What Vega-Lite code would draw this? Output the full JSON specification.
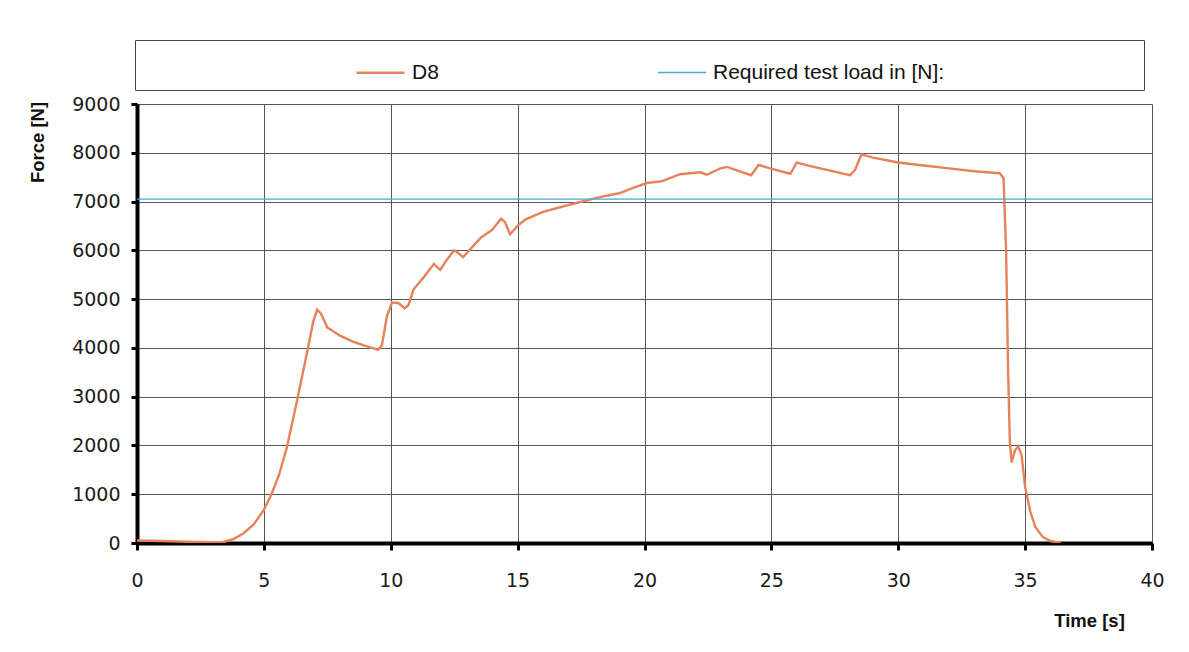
{
  "$schema": "https://vega.github.io/schema/vega-lite/v6.json",
  "width": 1015,
  "height": 439,
  "autosize": {"type": "none"},
  "padding": {"left": 137, "top": 104, "right": 37, "bottom": 109},
  "background": "#ffffff",
  "config": {
    "view": {"stroke": null},
    "axis": {
      "labelFont": "DejaVu Sans",
      "labelFontSize": 19,
      "labelColor": "#1a1a1a",
      "titleFont": "Liberation Sans",
      "titleFontSize": 18.5,
      "titleFontWeight": "bold",
      "titleColor": "#111111",
      "gridColor": "#555555",
      "gridWidth": 1,
      "gridOpacity": 1,
      "domainColor": "#000000",
      "domainWidth": 4,
      "tickColor": "#000000",
      "tickWidth": 3
    },
    "legend": {
      "labelFont": "Liberation Sans",
      "labelFontSize": 21,
      "labelColor": "#111111"
    }
  },
  "data": {
    "values": [
      {"t": 0, "force": 50, "series": "D8"},
      {"t": 1, "force": 40, "series": "D8"},
      {"t": 2, "force": 25, "series": "D8"},
      {"t": 3, "force": 15, "series": "D8"},
      {"t": 3.4, "force": 20, "series": "D8"},
      {"t": 3.8, "force": 80, "series": "D8"},
      {"t": 4.2, "force": 200, "series": "D8"},
      {"t": 4.6, "force": 380, "series": "D8"},
      {"t": 5.0, "force": 680, "series": "D8"},
      {"t": 5.3, "force": 1000, "series": "D8"},
      {"t": 5.6, "force": 1400, "series": "D8"},
      {"t": 5.9, "force": 1950, "series": "D8"},
      {"t": 6.3, "force": 2900, "series": "D8"},
      {"t": 6.7, "force": 3900, "series": "D8"},
      {"t": 6.95, "force": 4550, "series": "D8"},
      {"t": 7.1, "force": 4780, "series": "D8"},
      {"t": 7.25, "force": 4700, "series": "D8"},
      {"t": 7.5, "force": 4420, "series": "D8"},
      {"t": 8.0, "force": 4250, "series": "D8"},
      {"t": 8.5, "force": 4130, "series": "D8"},
      {"t": 9.0, "force": 4040, "series": "D8"},
      {"t": 9.5, "force": 3960, "series": "D8"},
      {"t": 9.65, "force": 4050, "series": "D8"},
      {"t": 9.85, "force": 4650, "series": "D8"},
      {"t": 10.05, "force": 4930, "series": "D8"},
      {"t": 10.3, "force": 4920, "series": "D8"},
      {"t": 10.55, "force": 4810, "series": "D8"},
      {"t": 10.7, "force": 4880, "series": "D8"},
      {"t": 10.9, "force": 5200, "series": "D8"},
      {"t": 11.3, "force": 5450, "series": "D8"},
      {"t": 11.7, "force": 5720, "series": "D8"},
      {"t": 11.95, "force": 5600, "series": "D8"},
      {"t": 12.2, "force": 5800, "series": "D8"},
      {"t": 12.5, "force": 6000, "series": "D8"},
      {"t": 12.65, "force": 5950, "series": "D8"},
      {"t": 12.85, "force": 5860, "series": "D8"},
      {"t": 13.2, "force": 6060, "series": "D8"},
      {"t": 13.55, "force": 6260, "series": "D8"},
      {"t": 14.0, "force": 6420, "series": "D8"},
      {"t": 14.35, "force": 6650, "series": "D8"},
      {"t": 14.5, "force": 6580, "series": "D8"},
      {"t": 14.7, "force": 6330, "series": "D8"},
      {"t": 15.0, "force": 6500, "series": "D8"},
      {"t": 15.3, "force": 6630, "series": "D8"},
      {"t": 16.0, "force": 6790, "series": "D8"},
      {"t": 17.0, "force": 6930, "series": "D8"},
      {"t": 18.0, "force": 7060, "series": "D8"},
      {"t": 18.5, "force": 7120, "series": "D8"},
      {"t": 19.0, "force": 7170, "series": "D8"},
      {"t": 19.5, "force": 7270, "series": "D8"},
      {"t": 20.1, "force": 7380, "series": "D8"},
      {"t": 20.7, "force": 7420, "series": "D8"},
      {"t": 21.4, "force": 7560, "series": "D8"},
      {"t": 22.2, "force": 7600, "series": "D8"},
      {"t": 22.45, "force": 7550, "series": "D8"},
      {"t": 23.0, "force": 7680, "series": "D8"},
      {"t": 23.25, "force": 7710, "series": "D8"},
      {"t": 24.2, "force": 7540, "series": "D8"},
      {"t": 24.5, "force": 7750, "series": "D8"},
      {"t": 25.1, "force": 7660, "series": "D8"},
      {"t": 25.75, "force": 7570, "series": "D8"},
      {"t": 26.0, "force": 7800, "series": "D8"},
      {"t": 26.5, "force": 7730, "series": "D8"},
      {"t": 28.1, "force": 7540, "series": "D8"},
      {"t": 28.3, "force": 7650, "series": "D8"},
      {"t": 28.55, "force": 7970, "series": "D8"},
      {"t": 29.0, "force": 7900, "series": "D8"},
      {"t": 30.0, "force": 7800, "series": "D8"},
      {"t": 31.0, "force": 7740, "series": "D8"},
      {"t": 32.0, "force": 7680, "series": "D8"},
      {"t": 33.0, "force": 7620, "series": "D8"},
      {"t": 34.0, "force": 7580, "series": "D8"},
      {"t": 34.15, "force": 7480, "series": "D8"},
      {"t": 34.25, "force": 6000, "series": "D8"},
      {"t": 34.33, "force": 3500, "series": "D8"},
      {"t": 34.4, "force": 2050, "series": "D8"},
      {"t": 34.47, "force": 1650, "series": "D8"},
      {"t": 34.6, "force": 1900, "series": "D8"},
      {"t": 34.73, "force": 1980, "series": "D8"},
      {"t": 34.86, "force": 1800, "series": "D8"},
      {"t": 35.0, "force": 1150, "series": "D8"},
      {"t": 35.2, "force": 650, "series": "D8"},
      {"t": 35.4, "force": 330, "series": "D8"},
      {"t": 35.7, "force": 120, "series": "D8"},
      {"t": 36.0, "force": 40, "series": "D8"},
      {"t": 36.4, "force": 0, "series": "D8"},
      {"t": 0, "force": 7050, "series": "Required test load in [N]:"},
      {"t": 40, "force": 7050, "series": "Required test load in [N]:"}
    ]
  },
  "mark": {"type": "line", "clip": true},
  "encoding": {
    "x": {
      "field": "t",
      "type": "quantitative",
      "scale": {"domain": [0, 40], "nice": false},
      "axis": {
        "title": "Time [s]",
        "values": [0, 5, 10, 15, 20, 25, 30, 35, 40],
        "format": "d",
        "labelPadding": 21,
        "tickSize": 7,
        "titleX": 952,
        "titleY": 77,
        "titleAlign": "center",
        "titleBaseline": "middle",
        "labelFlush": false
      }
    },
    "y": {
      "field": "force",
      "type": "quantitative",
      "scale": {"domain": [0, 9000], "nice": false},
      "axis": {
        "title": "Force [N]",
        "values": [0, 1000, 2000, 3000, 4000, 5000, 6000, 7000, 8000, 9000],
        "format": "d",
        "tickSize": 6,
        "labelPadding": 11,
        "titleX": -100,
        "titleY": 38,
        "titleAngle": -90,
        "titleAlign": "center",
        "titleBaseline": "middle",
        "labelFlush": false
      }
    },
    "color": {
      "field": "series",
      "type": "nominal",
      "scale": {
        "domain": ["D8", "Required test load in [N]:"],
        "range": ["#e6825a", "#45acd8"]
      },
      "legend": {
        "title": " ",
        "titleOrient": "right",
        "titlePadding": 193,
        "orient": "none",
        "direction": "horizontal",
        "legendX": -2,
        "legendY": -64,
        "symbolType": "stroke",
        "symbolStrokeWidth": 2,
        "symbolSize": 2304,
        "symbolOffset": 213,
        "labelOffset": 6,
        "labelLimit": 500,
        "columnPadding": 5,
        "padding": 7,
        "strokeColor": "#444444",
        "fillColor": "#ffffff"
      }
    },
    "strokeWidth": {
      "field": "series",
      "type": "nominal",
      "scale": {"domain": ["D8", "Required test load in [N]:"], "range": [2.4, 1.4]},
      "legend": null
    }
  }
}
